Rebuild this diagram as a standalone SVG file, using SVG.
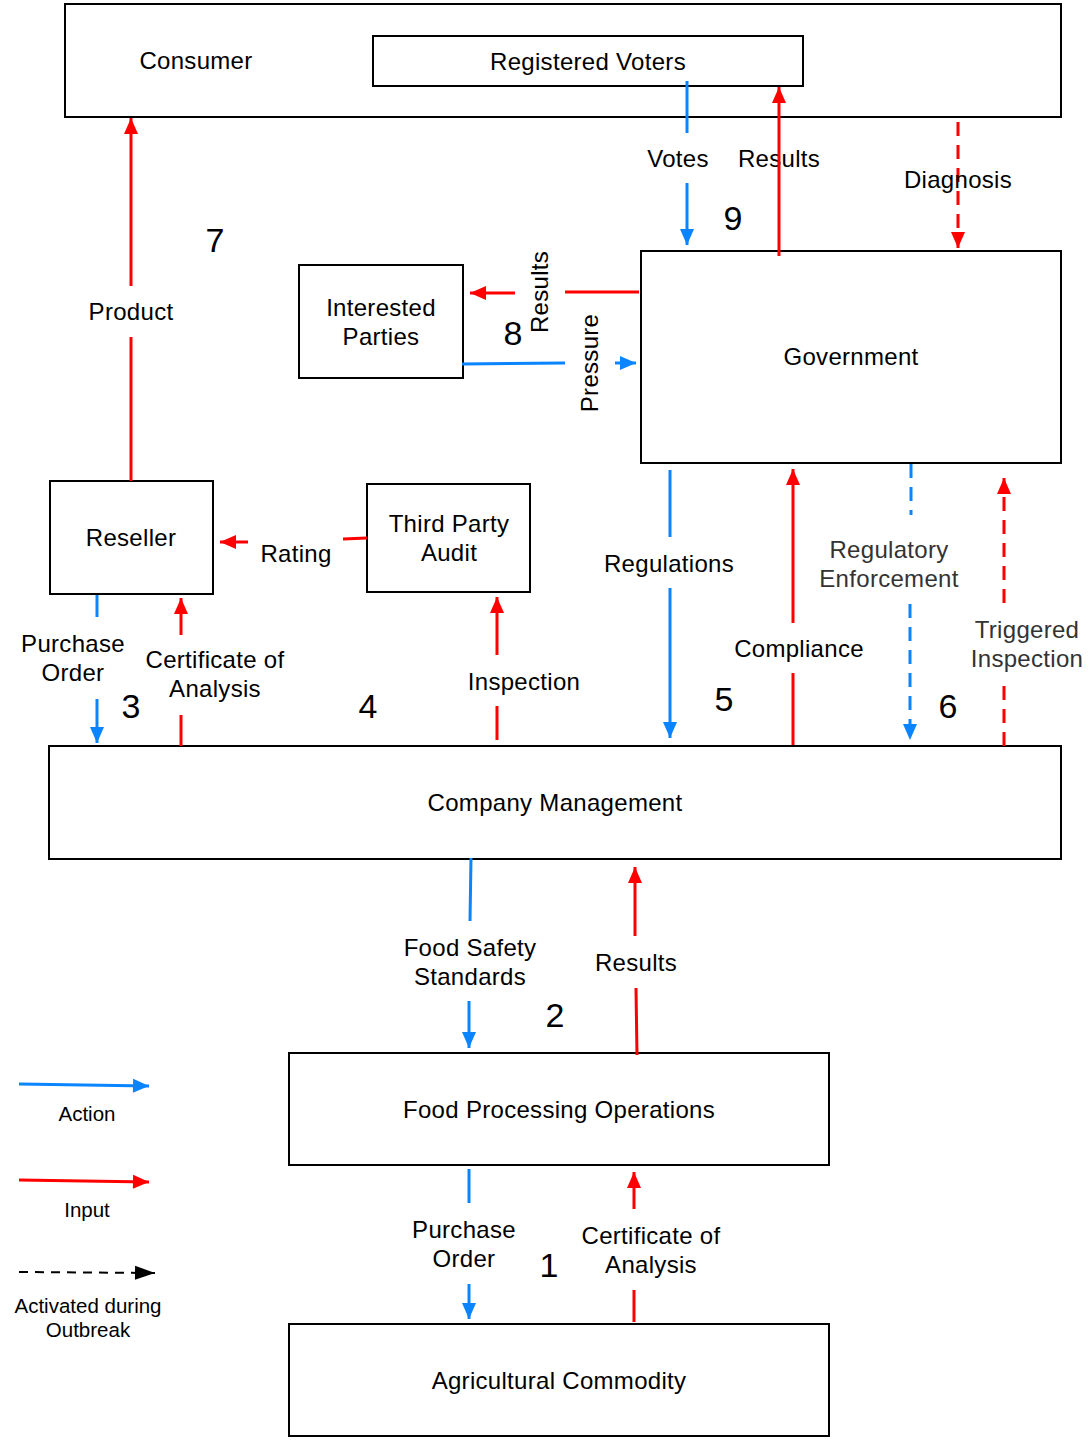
<svg xmlns="http://www.w3.org/2000/svg" width="1089" height="1440" viewBox="0 0 1089 1440">
<style>
.box{fill:#fff;stroke:#000;stroke-width:2}
.t{font-family:"Liberation Sans",Arial,sans-serif;font-size:24px;letter-spacing:0.3px;fill:#000;text-anchor:middle}
.lt{fill:#333}
.n{font-family:"Liberation Sans",Arial,sans-serif;font-size:34px;fill:#000;text-anchor:middle}
.lg{font-family:"Liberation Sans",Arial,sans-serif;font-size:20.5px;fill:#000;text-anchor:middle}
.b{stroke:#0A84FF;stroke-width:3;fill:none}
.r{stroke:#FF0000;stroke-width:3;fill:none}
.d{stroke-dasharray:14 9}
</style>
<defs>
<marker id="ab" markerUnits="userSpaceOnUse" markerWidth="20" markerHeight="20" viewBox="0 0 20 20" refX="18" refY="10" orient="auto"><path d="M2,3 L18,10 L2,17 Z" fill="#0A84FF"/></marker>
<marker id="ar" markerUnits="userSpaceOnUse" markerWidth="20" markerHeight="20" viewBox="0 0 20 20" refX="18" refY="10" orient="auto"><path d="M2,3 L18,10 L2,17 Z" fill="#FF0000"/></marker>
<marker id="ak" markerUnits="userSpaceOnUse" markerWidth="24" markerHeight="20" viewBox="0 0 24 20" refX="22" refY="10" orient="auto"><path d="M2,3 L22,10 L2,17 Z" fill="#000"/></marker>
</defs>

<g id="consumer"><rect class="box" x="65" y="4" width="996" height="113"/><text class="t" x="196" y="69">Consumer</text></g>
<g id="registered-voters"><rect class="box" x="373" y="36" width="430" height="50"/><text class="t" x="588" y="70">Registered Voters</text></g>
<g id="government"><rect class="box" x="641" y="251" width="420" height="212"/><text class="t" x="851" y="365">Government</text></g>
<g id="interested-parties"><rect class="box" x="299" y="265" width="164" height="113"/><text class="t" x="381" y="316">Interested</text><text class="t" x="381" y="345">Parties</text></g>
<g id="reseller"><rect class="box" x="50" y="481" width="163" height="113"/><text class="t" x="131" y="546">Reseller</text></g>
<g id="third-party-audit"><rect class="box" x="367" y="484" width="163" height="108"/><text class="t" x="449" y="532">Third Party</text><text class="t" x="449" y="561">Audit</text></g>
<g id="company-management"><rect class="box" x="49" y="746" width="1012" height="113"/><text class="t" x="555" y="811">Company Management</text></g>
<g id="food-processing"><rect class="box" x="289" y="1053" width="540" height="112"/><text class="t" x="559" y="1118">Food Processing Operations</text></g>
<g id="agricultural-commodity"><rect class="box" x="289" y="1324" width="540" height="112"/><text class="t" x="559" y="1389">Agricultural Commodity</text></g>

<g id="connectors">
<!-- 9 -->
<line class="b" x1="687" y1="81" x2="687" y2="133"/>
<line class="b" x1="687" y1="183" x2="687" y2="245" marker-end="url(#ab)"/>
<text class="t" x="678" y="167">Votes</text>
<text class="t" x="779" y="167">Results</text>
<line class="r" x1="779" y1="256" x2="779" y2="87" marker-end="url(#ar)"/>
<line class="r d" x1="958" y1="122" x2="958" y2="248" marker-end="url(#ar)"/>
<text class="t" x="958" y="188">Diagnosis</text>
<text class="n" x="733" y="230">9</text>
<!-- 8 -->
<line class="r" x1="639" y1="292" x2="565" y2="292"/>
<line class="r" x1="515" y1="293" x2="470" y2="293" marker-end="url(#ar)"/>
<text class="t" transform="translate(548,292) rotate(-90)">Results</text>
<line class="b" x1="462" y1="364" x2="565" y2="363"/>
<line class="b" x1="615" y1="363" x2="636" y2="363" marker-end="url(#ab)"/>
<text class="t" transform="translate(598,363) rotate(-90)">Pressure</text>
<text class="n" x="513" y="345">8</text>
<!-- 7 -->
<line class="r" x1="131" y1="481" x2="131" y2="337"/>
<line class="r" x1="131" y1="286" x2="131" y2="118" marker-end="url(#ar)"/>
<text class="t" x="131" y="320">Product</text>
<text class="n" x="215" y="252">7</text>
<!-- Rating -->
<line class="r" x1="367" y1="538" x2="343" y2="539"/>
<line class="r" x1="248" y1="542" x2="220" y2="542" marker-end="url(#ar)"/>
<text class="t" x="296" y="562">Rating</text>
<!-- 3 -->
<line class="b" x1="97" y1="595" x2="97" y2="617"/>
<line class="b" x1="97" y1="699" x2="97" y2="743" marker-end="url(#ab)"/>
<text class="t" x="73" y="652">Purchase</text><text class="t" x="73" y="681">Order</text>
<line class="r" x1="181" y1="746" x2="181" y2="715"/>
<line class="r" x1="181" y1="635" x2="181" y2="598" marker-end="url(#ar)"/>
<text class="t" x="215" y="668">Certificate of</text><text class="t" x="215" y="697">Analysis</text>
<text class="n" x="131" y="718">3</text>
<text class="n" x="368" y="718">4</text>
<!-- Inspection -->
<line class="r" x1="497" y1="740" x2="497" y2="706"/>
<line class="r" x1="497" y1="655" x2="497" y2="597" marker-end="url(#ar)"/>
<text class="t" x="524" y="690">Inspection</text>
<!-- 5 -->
<line class="b" x1="670" y1="470" x2="670" y2="537"/>
<line class="b" x1="670" y1="588" x2="670" y2="738" marker-end="url(#ab)"/>
<text class="t" x="669" y="572">Regulations</text>
<line class="r" x1="793" y1="745" x2="793" y2="673"/>
<line class="r" x1="793" y1="623" x2="793" y2="469" marker-end="url(#ar)"/>
<text class="t" x="799" y="657">Compliance</text>
<text class="n" x="724" y="711">5</text>
<!-- 6 -->
<line class="b d" x1="911" y1="464" x2="911" y2="515"/>
<line class="b d" x1="910" y1="604" x2="910" y2="740" marker-end="url(#ab)"/>
<text class="t lt" x="889" y="558">Regulatory</text><text class="t lt" x="889" y="587">Enforcement</text>
<line class="r d" x1="1004" y1="746" x2="1004" y2="684"/>
<line class="r d" x1="1004" y1="603" x2="1004" y2="478" marker-end="url(#ar)"/>
<text class="t lt" x="1027" y="638">Triggered</text><text class="t lt" x="1027" y="667">Inspection</text>
<text class="n" x="948" y="718">6</text>
<!-- 2 -->
<line class="b" x1="471" y1="858" x2="470" y2="921"/>
<line class="b" x1="469" y1="1001" x2="469" y2="1048" marker-end="url(#ab)"/>
<text class="t" x="470" y="956">Food Safety</text><text class="t" x="470" y="985">Standards</text>
<line class="r" x1="637" y1="1055" x2="636" y2="988"/>
<line class="r" x1="635" y1="936" x2="635" y2="867" marker-end="url(#ar)"/>
<text class="t" x="636" y="971">Results</text>
<text class="n" x="555" y="1027">2</text>
<!-- 1 -->
<line class="b" x1="469" y1="1169" x2="469" y2="1203"/>
<line class="b" x1="469" y1="1284" x2="469" y2="1319" marker-end="url(#ab)"/>
<text class="t" x="464" y="1238">Purchase</text><text class="t" x="464" y="1267">Order</text>
<line class="r" x1="634" y1="1322" x2="634" y2="1290"/>
<line class="r" x1="634" y1="1209" x2="634" y2="1172" marker-end="url(#ar)"/>
<text class="t" x="651" y="1244">Certificate of</text><text class="t" x="651" y="1273">Analysis</text>
<text class="n" x="549" y="1277">1</text>
</g>

<g id="legend">
<line class="b" x1="19" y1="1084" x2="149" y2="1086" marker-end="url(#ab)"/>
<text class="lg" x="87" y="1121">Action</text>
<line class="r" x1="19" y1="1180" x2="149" y2="1182" marker-end="url(#ar)"/>
<text class="lg" x="87" y="1217">Input</text>
<line x1="19" y1="1272" x2="155" y2="1273" stroke="#000" stroke-width="2" stroke-dasharray="9 7" marker-end="url(#ak)"/>
<text class="lg" x="88" y="1313">Activated during</text><text class="lg" x="88" y="1337">Outbreak</text>
</g>
</svg>
